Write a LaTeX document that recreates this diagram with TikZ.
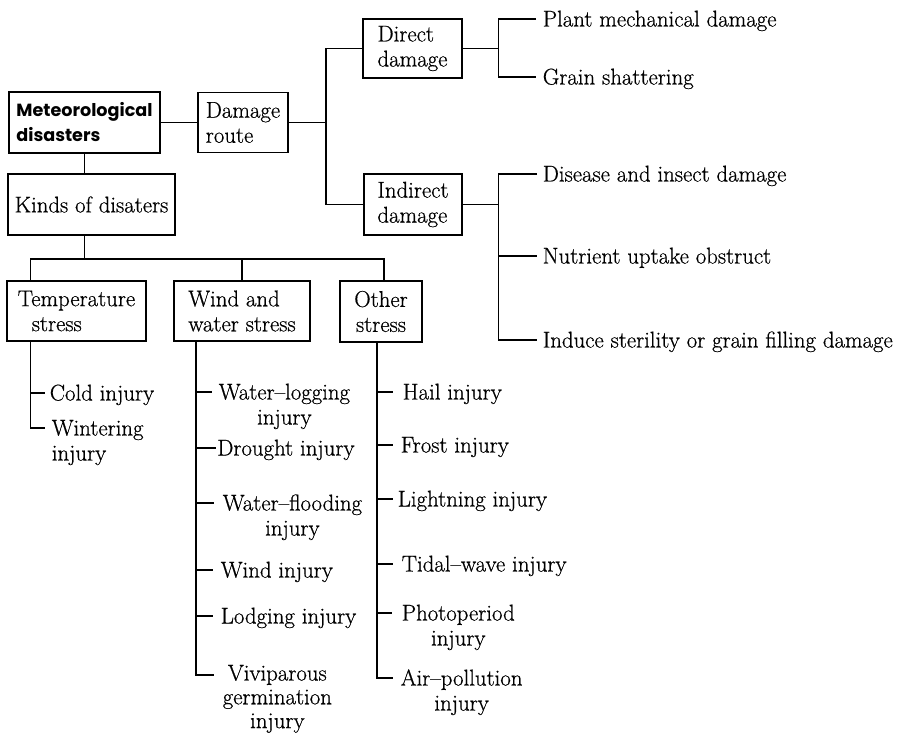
\documentclass[tikz,border=0pt]{standalone}
\usepackage{fontspec}
\setmainfont{Latin Modern Roman}[FakeBold=0.6]
\newfontfamily\metfont{Poppins}
\newcommand\mlab[2][c]{\begin{tabular}[t]{@{}#1@{}}#2\end{tabular}}
\begin{document}
\begin{tikzpicture}[x=1pt,y=-1pt, line width=1.6pt,
  every node/.style={font=\fontsize{22.8}{25}\selectfont},
  box/.style={draw, inner sep=0pt, align=left},
  lbl/.style={anchor=base west, yshift=-7.5pt, inner xsep=#1, inner ysep=0pt},
  lbl/.default=6pt]
\useasboundingbox (0,0) rectangle (899,735);
% boxes
\node[box, minimum width=151pt, minimum height=61pt, font=\metfont\bfseries\fontsize{17.6}{25}\selectfont] (met) at (84.5,122.5) {Meteorological\\disasters};
\node[box, minimum width=90pt, minimum height=60pt] (dmg) at (243,122.5) {Damage\\route};
\node[box, minimum width=99pt, minimum height=59pt] (direct) at (412.5,48.5) {Direct\\damage};
\node[box, minimum width=98pt, minimum height=61pt] (indirect) at (413,204.5) {Indirect\\damage};
\node[box, minimum width=167pt, minimum height=61pt] (kinds) at (91.5,204.5) {Kinds of disaters};
\node[box, minimum width=139pt, minimum height=60pt] (temp) at (76.5,311) {Temperature\\\hspace*{14pt}stress};
\node[box, minimum width=136pt, minimum height=60pt] (wind) at (242,311) {Wind and\\water stress};
\node[box, minimum width=82pt, minimum height=61pt, align=center] (other) at (381,311.5) {Other\\stress};
% right labels
\node[lbl=6pt] (plant) at (536,19) {Plant mechanical damage};
\node[lbl=6pt] (grain) at (536,77) {Grain shattering};
\node[lbl=5pt] (dis) at (537,174) {Disease and insect damage};
\node[lbl=5pt] (nut) at (537,256) {Nutrient uptake obstruct};
\node[lbl=5pt] (indu) at (537,340) {Induce sterility or grain filling damage};
% temperature labels
\node[lbl=4pt] (cold) at (45,393) {Cold injury};
\node[lbl=6pt] (wint) at (45,428) {\mlab[l]{Wintering\\injury}};
% wind labels
\node[lbl=6pt] (wlog) at (212,392) {\mlab{Water–logging\\injury}};
\node[lbl=0.5pt] (drought) at (216,448) {Drought injury};
\node[lbl=8pt] (wflood) at (214,503) {\mlab{Water–flooding\\injury}};
\node[lbl=7pt] (windi) at (213,570) {Wind injury};
\node[lbl=7pt] (lodg) at (213,616) {Lodging injury};
\node[lbl=8pt, yshift=2pt, font=\fontsize{22.8}{23.8}\selectfont] (vivi) at (214,675) {\mlab{Viviparous\\germination\\injury}};
% other labels
\node[lbl=9pt] (hail) at (393,392) {Hail injury};
\node[lbl=7pt] (frost) at (393,445) {Frost injury};
\node[lbl=4pt] (light) at (393,499) {Lightning injury};
\node[lbl=8pt] (tidal) at (393,564) {Tidal–wave injury};
\node[lbl=9pt] (photo) at (392,613) {\mlab{Photoperiod\\injury}};
\node[lbl=7pt] (air) at (393,678) {\mlab{Air–pollution\\injury}};
% helper coordinates
\coordinate (jx) at (326,0);
\coordinate (rx) at (498.5,0);
\coordinate (bj) at (84.5,259);
\coordinate (bx) at (384,0);
\coordinate (tx) at (30.5,0);
\coordinate (wx) at (196,0);
\coordinate (ox) at (377,0);
% connectors top
\draw (met.east) -- (dmg.west);
\draw (dmg.east) -- (dmg.east -| jx);
\draw (direct.west) -| (dmg.east -| jx) |- (indirect.west);
\draw (direct.east) -- (direct.east -| rx);
\draw ([yshift=7.5pt]plant.base west) -| (direct.east -| rx) |- ([yshift=7.5pt]grain.base west);
\draw (indirect.east) -- (indirect.east -| rx);
\draw ([yshift=7.5pt]dis.base west) -| (indirect.east -| rx) |- ([yshift=7.5pt]indu.base west);
\draw ([yshift=7.5pt]nut.base west -| rx) -- ([yshift=7.5pt]nut.base west);
% connectors left
\draw (met.south) -- (met.south |- kinds.north);
\draw (kinds.south -| bj) -- (bj);
\draw (temp.north -| tx) |- (bj) -| (other.north -| bx);
\draw (wind.north |- bj) -- (wind.north);
% temperature
\draw (temp.south -| tx) |- ([yshift=7.5pt]cold.base west);
\draw (temp.south -| tx) |- ([yshift=7.5pt]wint.base west);
% wind
\draw (wind.south -| wx) |- ([yshift=5.5pt]vivi.base west);
\draw ([yshift=7.5pt]wlog.base west -| wx) -- ([yshift=7.5pt]wlog.base west);
\draw ([yshift=7.5pt]drought.base west -| wx) -- ([yshift=7.5pt]drought.base west);
\draw ([yshift=7.5pt]wflood.base west -| wx) -- ([yshift=7.5pt]wflood.base west);
\draw ([yshift=7.5pt]windi.base west -| wx) -- ([yshift=7.5pt]windi.base west);
\draw ([yshift=7.5pt]lodg.base west -| wx) -- ([yshift=7.5pt]lodg.base west);
% other
\draw (other.south -| ox) |- ([yshift=7.5pt]air.base west);
\draw ([yshift=7.5pt]hail.base west -| ox) -- ([yshift=7.5pt]hail.base west);
\draw ([yshift=7.5pt]frost.base west -| ox) -- ([yshift=7.5pt]frost.base west);
\draw ([yshift=7.5pt]light.base west -| ox) -- ([yshift=7.5pt]light.base west);
\draw ([yshift=7.5pt]tidal.base west -| ox) -- ([yshift=7.5pt]tidal.base west);
\draw ([yshift=7.5pt]photo.base west -| ox) -- ([yshift=7.5pt]photo.base west);
\end{tikzpicture}
\end{document}
